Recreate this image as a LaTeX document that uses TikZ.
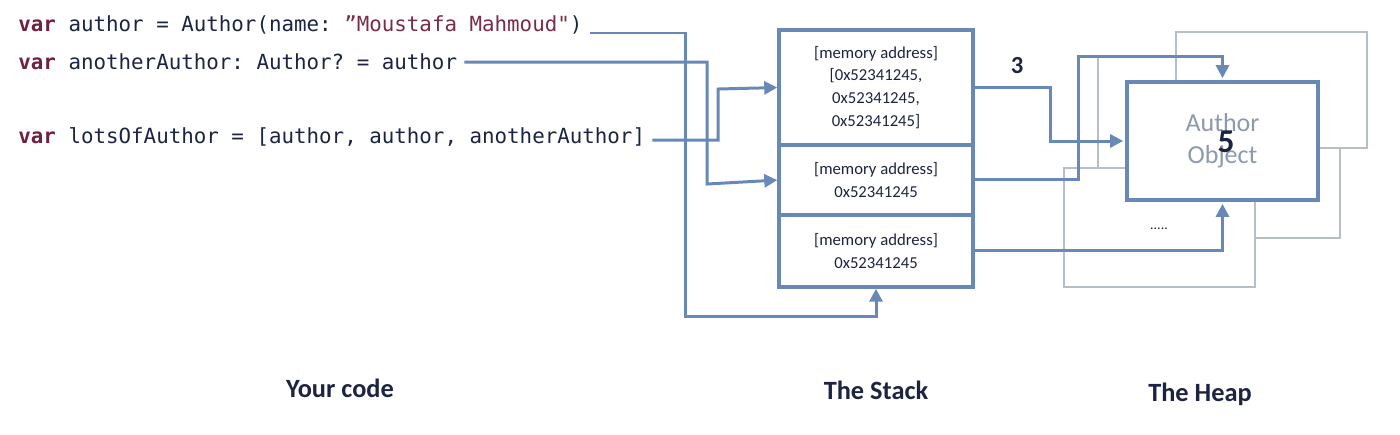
\documentclass[tikz,border=0pt]{standalone}
\usepackage{fontspec}
\setmainfont{Carlito}
\setmonofont{DejaVu Sans Mono}
\usetikzlibrary{arrows.meta, positioning}
\definecolor{accent}{RGB}{104,136,184}
\definecolor{heapgray}{RGB}{182,190,202}
\definecolor{kwcolor}{RGB}{110,33,66}
\definecolor{strcolor}{RGB}{122,44,68}
\definecolor{codeink}{RGB}{28,36,64}
\definecolor{objgray}{RGB}{141,153,174}
\newcommand{\kw}[1]{\textbf{\color{kwcolor}#1}}
\newcommand{\str}[1]{{\color{strcolor}#1}}

\begin{document}
\begin{tikzpicture}[x=0.02cm, y=-0.02cm,
  codeline/.style={anchor=west, font=\fontsize{11.85}{14}\ttfamily, text=codeink, inner sep=4pt},
  cell/.style={rectangle, draw=accent, line width=2.2pt, fill=white, minimum width=3.88cm,
              align=center, font=\fontsize{9.5}{13}\selectfont, text=codeink, outer sep=0pt, inner sep=0pt},
  heapbox/.style={rectangle, draw=heapgray, line width=0.9pt, fill=white, minimum width=3.82cm},
  arrow/.style={-{Triangle[length=2.6mm, width=2.6mm]}, draw=accent, line width=1.7pt, shorten >=1pt},
  title/.style={font=\fontsize{15}{18}\selectfont\bfseries, text=codeink}
]
\useasboundingbox (0,0) rectangle (1400,434);

% your code
\node[codeline] (code1) at (11,25) {\kw{var} author = Author(name: \str{”Moustafa Mahmoud"})};
\node[codeline] (code2) at (11,62) {\kw{var} anotherAuthor: Author? = author};
\node[codeline] (code3) at (11,137) {\kw{var} lotsOfAuthor = [author, author, anotherAuthor]};

% stack side
\node[cell, minimum height=2.3cm] (list) at (876,87.5)
  {[memory address]\\{[0x52341245,}\\0x52341245,\\0x52341245]};
\node[cell, minimum height=1.4cm, below=0pt of list] (addrA) {[memory address]\\0x52341245};
\node[cell, minimum height=1.44cm, below=0pt of addrA] (addrB) {[memory address]\\0x52341245};

% heap side
\node[heapbox, minimum width=4.84cm, minimum height=3.62cm] (backB) at (1219,147.5) {};
\node[heapbox, minimum height=2.32cm] (backA) at (1271.5,90) {};
\node[heapbox, minimum height=2.38cm] (backC) at (1159.5,227.5) {};
\node[font=\fontsize{8}{9}\selectfont, text=codeink] (dots) at (1159,229) {.....};
\node[heapbox, draw=accent, line width=2.4pt, minimum height=2.36cm, text=objgray,
      font=\fontsize{14.8}{18}\selectfont, align=center] (heap) at (1222.5,141) {Author\\Object};
\node[font=\fontsize{19}{20}\selectfont\bfseries, text=codeink] (count) at (1226,142) {5};
\node[font=\fontsize{14}{16}\selectfont\bfseries, text=codeink] (refs) at (1017,66) {3};

% arrows
\draw[arrow] ([yshift=-0.16cm]code1.east) -| (685,316) -| (addrB.south);
\draw[arrow] (code2.east) -| (707,184) -- (addrA.west);
\draw[arrow] ([yshift=-0.06cm]code3.east) -| (718,89) -- (list.west);
\draw[arrow] (list.east) -| (1050,141) -- (heap.west);
\draw[arrow] (addrA.east) -| (1078,56) -| (heap.north);
\draw[arrow] (addrB.east) -| (heap.south);

% titles
\node[title] (codeTitle) at (340,388) {Your code};
\node[title] (stackTitle) at (876,390) {The Stack};
\node[title] (heapTitle) at (1200,394) {The Heap};
\end{tikzpicture}
\end{document}
